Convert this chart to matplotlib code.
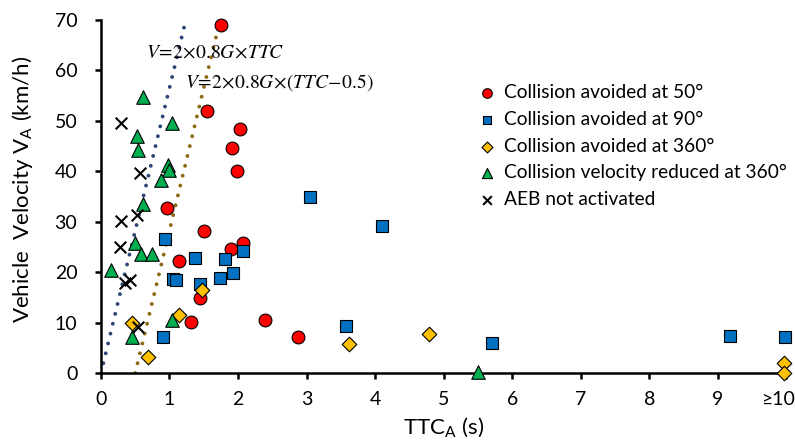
import numpy as np
import matplotlib
matplotlib.use('Agg')
import matplotlib.pyplot as plt
import matplotlib.transforms as mtransforms

# ---------------------------
# Data
# ---------------------------
ttc_50 = [1.75, 1.55, 2.03, 1.91, 1.98, 0.96, 1.51, 1.14, 1.90, 2.07, 1.44, 1.32, 2.39, 2.87]
v_50 = [69.0, 52.0, 48.4, 44.6, 40.0, 32.8, 28.2, 22.3, 24.5, 25.7, 14.8, 10.1, 10.6, 7.1]

ttc_90 = [3.05, 4.10, 3.58, 5.70, 2.07, 1.93, 9.18, 9.98, 0.93, 1.05, 1.09, 1.37, 1.44, 1.81, 1.74, 0.90]
v_90 = [34.9, 29.2, 9.4, 6.0, 24.1, 19.9, 7.3, 7.1, 26.5, 18.6, 18.4, 22.9, 17.7, 22.6, 18.8, 7.2]

ttc_360 = [0.45, 0.69, 1.14, 1.47, 3.62, 4.79, 9.97, 9.97]
v_360 = [9.9, 3.2, 11.5, 16.5, 5.7, 7.7, 2.0, 0.0]

ttc_red = [0.61, 1.03, 0.53, 0.54, 0.98, 1.00, 0.88, 0.61, 0.50, 0.59, 0.75, 0.15, 0.45, 1.03, 5.50]
v_red = [54.8, 49.5, 47.0, 44.2, 41.3, 40.3, 38.3, 33.5, 25.7, 23.6, 23.6, 20.4, 7.2, 10.6, 0.3]

ttc_off = [0.29, 0.57, 0.29, 0.52, 0.28, 0.35, 0.42, 0.54]
v_off = [49.5, 39.7, 30.2, 31.3, 24.9, 17.9, 18.5, 9.2]

x_ticks = [0, 1, 2, 3, 4, 5, 6, 7, 8, 9, 10]
x_labels = ['0', '1', '2', '3', '4', '5', '6', '7', '8', '9', '≥10']
y_ticks = [0, 10, 20, 30, 40, 50, 60, 70]

# braking reference lines: V = 2*0.8G*TTC  (km/h)
k = 2 * 0.8 * 9.81 * 3.6
t_a = np.array([0.0, 70 / k])
t_b = np.array([0.5, 0.5 + 70 / k])

plt.rcParams['font.family'] = ['Lato', 'DejaVu Sans']
plt.rcParams['mathtext.fontset'] = 'stix'

fig = plt.figure(figsize=(7.95, 4.41), dpi=100)
ax = fig.add_axes([0.127, 0.154, 0.862, 0.801])

ax.plot(t_a, k * t_a, color='#2E4677', lw=2.8, linestyle=(0, (0.01, 2.6)),
        dash_capstyle='round', zorder=1)
ax.plot(t_b, k * (t_b - 0.5), color='#8C6A14', lw=2.8, linestyle=(0, (0.01, 2.6)),
        dash_capstyle='round', zorder=1)

common = dict(edgecolors='black', linewidths=0.8, zorder=3, clip_on=False)
ax.scatter(ttc_50, v_50, s=85, marker='o', c='#FF0000',
           label='Collision avoided at 50°', **common)
ax.scatter(ttc_90, v_90, s=72, marker='s', c='#0070C0',
           label='Collision avoided at 90°', **common)
ax.scatter(ttc_360, v_360, s=55, marker='D', c='#FFC000',
           label='Collision avoided at 360°', **common)
ax.scatter(ttc_red, v_red, s=95, marker='^', c='#00B050',
           label='Collision velocity reduced at 360°', **common)
ax.scatter(ttc_off, v_off, s=70, marker='x', c='black', linewidths=1.5,
           label='AEB not activated', zorder=3, clip_on=False)

ax.text(0.66, 63.7, r'$V\!=\!2\!\times\!0.8G\!\times\!TTC$', fontsize=14,
        va='center', ha='left', zorder=4)
ax.text(1.22, 57.5, r'$V\!=\!2\!\times\!0.8G\!\times\!(TTC\!-\!0.5)$', fontsize=14,
        va='center', ha='left', zorder=4)

ax.set_xlim(0, 10.0)
ax.set_ylim(0, 70)
ax.set_xticks(x_ticks)
ax.set_xticklabels(x_labels)
ax.set_yticks(y_ticks)
ax.tick_params(axis='both', labelsize=14, width=1.8, length=4, direction='out')
ax.tick_params(axis='x', pad=9)
ax.tick_params(axis='y', pad=13)
for side in ['top', 'right']:
    ax.spines[side].set_visible(False)
for side in ['left', 'bottom']:
    ax.spines[side].set_linewidth(1.8)

# keep the last label inside the figure
last = ax.get_xticklabels()[-1]
last.set_horizontalalignment('right')
last.set_transform(last.get_transform() + mtransforms.ScaledTranslation(9 / 100, 0, fig.dpi_scale_trans))

ax.set_xlabel(r'TTC$_\mathregular{A}$ (s)', fontsize=16, va='center')
ax.xaxis.set_label_coords(0.5, -0.155)
ax.set_ylabel(r'Vehicle  Velocity V$_\mathregular{A}$ (km/h)', fontsize=16,
              va='center', rotation_mode='anchor')
ax.yaxis.set_label_coords(-0.115, 0.52)

ax.legend(loc='upper left', bbox_to_anchor=(0.586, 0.826), bbox_transform=fig.transFigure,
          frameon=False, fontsize=13.8, markerscale=0.75, handletextpad=0.2,
          handlelength=1.4, labelspacing=0.5, borderaxespad=0)

fig.savefig('out.png', dpi=100)
plt.close(fig)
